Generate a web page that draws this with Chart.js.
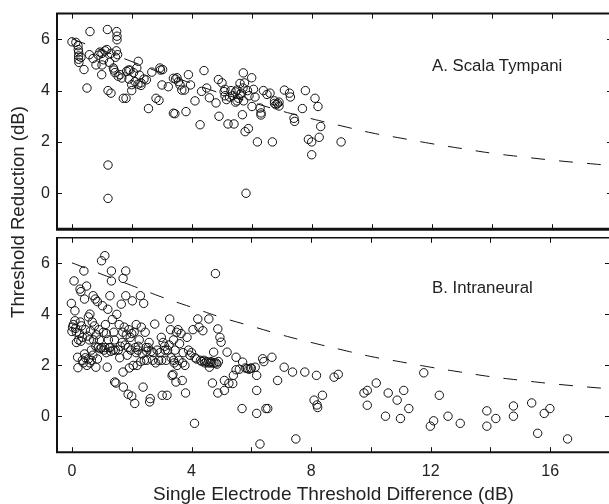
<!DOCTYPE html>
<html>
<head>
<meta charset="utf-8">
<title>Threshold Reduction</title>
<script src="https://cdn.jsdelivr.net/npm/chart.js"></script>
<style>
html, body {
  margin: 0;
  padding: 0;
  background: #fff;
  overflow: hidden;
  width: 609px;
  height: 504px;
}
#wrap {
  position: relative;
  width: 620px;
  height: 504px;
  font-family: "Liberation Sans", Arial, sans-serif;
  color: #222;
}
.box { position: absolute; left: 0; }
.tag {
  position: absolute;
  left: 432px;
  font-size: 16.8px;
  line-height: 16.8px;
  white-space: nowrap;
}
#yTitle {
  position: absolute;
  left: -102px;
  top: 202px;
  width: 240px;
  text-align: center;
  font-size: 18.6px;
  line-height: 20px;
  transform: rotate(-90deg);
  white-space: nowrap;
}
</style>
</head>
<body>

<div id="wrap">
  <div class="box" style="top:0"><canvas id="chartA" width="620" height="240"></canvas></div>
  <div class="box" style="top:230px"><canvas id="chartB" width="620" height="274"></canvas></div>
  <div class="tag" style="top:58px">A. Scala Tympani</div>
  <div class="tag" style="top:280px">B. Intraneural</div>
  <div id="yTitle">Threshold Reduction (dB)</div>
</div>

<script>
// panel A - scala tympani
const tympX = [0.0,0.13,0.2,0.21,0.22,0.22,0.22,0.23,0.3,0.4,0.5,0.58,0.6,0.7,0.8,0.88,0.93,0.99,1.0,1.0,
  1.05,1.1,1.16,1.18,1.2,1.2,1.2,1.25,1.3,1.3,1.38,1.4,1.43,1.45,1.49,1.5,1.5,1.48,1.52,1.54,
  1.6,1.66,1.71,1.8,1.82,1.88,1.9,1.93,1.99,1.99,2.05,2.1,2.16,2.21,2.2,2.25,2.3,2.3,2.4,2.48,
  2.55,2.66,2.8,2.9,2.93,2.95,3.02,3.0,3.21,3.38,3.38,3.43,3.45,3.5,3.55,3.6,3.66,3.75,3.8,3.88,
  3.95,4.1,4.27,4.32,4.4,4.49,4.58,4.8,4.88,4.9,5.0,5.07,5.1,5.1,5.15,5.2,5.25,5.3,5.35,5.4,
  5.45,5.45,5.5,5.5,5.55,5.6,5.6,5.65,5.68,5.7,5.71,5.72,5.75,5.77,5.8,5.85,5.88,5.9,5.99,6.0,
  6.05,6.1,6.18,6.27,6.3,6.3,6.38,6.5,6.6,6.68,6.75,6.75,6.8,6.85,6.9,6.9,7.08,7.25,7.28,7.4,
  7.42,7.68,7.78,7.88,7.99,7.99,8.1,8.2,8.24,8.29,8.97];
const tympY = [5.9,5.88,5.75,5.6,5.5,5.35,5.22,5.1,5.3,4.82,4.1,5.4,6.3,5.25,5.0,5.38,5.5,4.62,5.0,5.45,
  5.2,5.55,5.6,6.38,4.0,1.1,-0.2,5.1,3.9,5.45,4.88,4.8,4.7,5.3,6.3,6.12,5.98,5.55,5.4,4.56,
  4.62,4.49,3.7,3.7,4.75,4.8,4.45,4.8,4.0,4.23,4.7,4.35,4.88,5.14,4.25,4.6,4.3,4.2,4.45,4.42,
  3.3,4.72,3.7,3.62,4.88,4.8,4.82,4.22,4.15,4.48,3.12,3.1,4.45,4.5,4.35,4.22,4.02,4.02,3.18,4.62,
  4.22,3.6,2.67,3.97,4.78,4.1,3.72,3.52,4.43,3.0,4.3,3.96,3.8,4.05,3.65,2.7,3.75,4.0,3.8,2.7,
  3.55,3.95,4.02,3.6,3.7,4.28,3.85,3.9,3.06,4.1,4.69,3.6,4.3,2.4,0.0,4.0,2.52,3.8,4.5,3.38,
  4.05,3.75,2.0,3.32,3.13,3.05,4.0,3.85,3.9,2.0,3.6,3.5,3.45,3.5,3.55,3.4,4.02,3.9,3.75,2.92,
  2.8,3.3,4.0,2.1,2.0,1.5,3.7,3.38,2.18,2.6,2.0];

// panel B - intraneural
const intraX = [-0.02,0.0,0.02,0.05,0.07,0.1,0.1,0.12,0.15,0.19,0.2,0.22,0.25,0.27,0.3,0.3,0.32,0.35,0.38,0.4,
  0.42,0.45,0.45,0.49,0.5,0.52,0.55,0.55,0.6,0.6,0.62,0.65,0.68,0.71,0.72,0.75,0.78,0.8,0.8,0.82,
  0.85,0.88,0.9,0.95,0.99,0.99,1.02,1.05,1.07,1.1,1.12,1.15,1.18,1.2,1.22,1.25,1.27,1.3,1.32,1.32,
  1.35,1.38,1.4,1.43,1.45,1.47,1.5,1.55,1.58,1.6,1.65,1.68,1.71,1.71,1.72,1.75,1.78,1.8,1.8,1.82,
  1.85,1.88,1.9,1.92,1.95,1.97,2.0,2.02,2.05,2.08,2.1,2.12,2.15,2.18,2.2,2.25,2.29,2.3,2.32,2.35,
  2.38,2.4,2.42,2.45,2.48,2.5,2.55,2.6,2.62,2.65,2.7,2.77,2.8,2.85,2.9,2.95,2.99,3.0,3.02,3.05,
  3.1,3.15,3.18,3.2,3.25,3.27,3.3,3.32,3.35,3.38,3.4,3.42,3.45,3.48,3.5,3.52,3.55,3.58,3.6,3.65,
  3.69,3.7,3.72,3.78,3.8,3.85,3.9,3.95,4.0,4.05,4.1,4.12,4.17,4.21,4.25,4.3,4.35,4.38,4.42,4.5,
  4.55,4.58,4.6,4.62,4.68,4.7,4.74,4.75,4.8,4.82,4.88,4.88,4.9,4.95,4.99,5.1,5.1,5.19,5.25,5.38,
  5.4,5.49,5.49,5.6,5.69,5.71,5.8,5.86,5.92,5.98,6.0,6.13,6.18,6.18,6.18,6.29,6.38,6.42,6.49,6.55,
  6.69,6.88,7.1,7.38,7.49,7.79,8.1,8.18,8.2,8.22,8.38,8.77,8.91,9.77,9.88,9.88,10.18,10.49,10.58,10.88,
  10.99,11.1,11.27,11.77,11.99,12.1,12.29,12.58,12.99,13.88,13.88,14.18,14.77,14.77,15.38,15.58,15.8,15.99,16.58,
  0.15,0.28,0.35,0.42,0.58,0.65,0.7,0.85,0.92,1.1,1.15,1.28,1.42,1.62,1.7,1.88,2.0,2.15,2.22,2.5,
  2.58,2.72,3.12,3.4,4.45,4.65,4.85];
const intraY = [4.43,3.33,3.5,3.6,5.31,4.14,3.75,3.45,3.3,2.32,1.91,3.0,3.25,4.99,4.89,2.95,3.55,2.2,2.1,5.7,
  4.6,3.4,2.3,5.11,2.0,3.15,3.9,2.25,4.01,2.1,3.35,2.2,3.7,4.73,3.0,3.55,4.6,1.93,2.75,3.2,
  4.5,2.7,3.4,2.65,6.1,2.7,4.34,3.3,2.6,6.3,3.6,2.5,1.93,4.2,3.0,2.7,4.73,2.55,5.7,5.31,
  3.8,2.6,3.3,1.35,2.6,1.31,4.0,2.6,3.6,2.3,4.4,2.9,5.41,1.74,1.15,3.5,2.8,5.7,4.73,3.2,
  2.4,0.87,3.4,1.9,3.1,2.6,0.8,4.53,2.0,3.3,0.51,2.7,3.6,2.0,2.6,3.0,4.73,2.15,3.5,2.45,
  1.15,4.43,2.2,3.3,2.7,2.55,2.7,0.57,0.7,2.55,2.2,3.62,2.1,2.6,2.2,2.5,3.1,2.2,0.83,2.9,
  2.75,2.2,0.83,2.6,2.8,3.82,3.4,2.3,1.6,1.65,3.0,2.1,2.6,1.35,3.3,2.0,3.4,2.2,2.85,3.25,
  1.41,2.1,2.5,2.0,0.92,3.1,2.6,2.4,2.5,3.4,-0.27,2.3,2.25,3.82,3.5,2.2,2.15,3.36,2.2,2.15,
  2.1,3.82,1.93,2.1,2.1,1.31,2.52,2.1,5.6,2.1,3.43,0.92,2.15,3.1,2.91,1.41,1.02,2.52,1.3,1.29,
  1.61,2.32,1.83,1.85,0.31,2.13,1.9,1.88,1.85,1.88,1.9,1.93,1.61,1.02,0.12,-1.08,2.26,2.15,0.31,0.31,
  2.32,1.41,1.93,1.74,-0.88,1.74,0.64,1.61,0.45,0.35,0.83,1.54,1.65,0.92,1.02,0.44,1.31,0.01,0.92,0.64,
  -0.08,1.02,0.31,1.71,-0.38,-0.17,0.83,0.01,-0.27,0.22,-0.38,-0.08,0.41,0.01,0.53,-0.66,0.12,0.31,-0.88,
  2.9,3.7,3.1,2.45,3.0,2.6,2.4,2.25,3.0,2.7,3.25,2.7,3.0,2.75,3.3,2.7,3.25,2.5,2.75,2.2,
  2.9,2.5,2.6,2.2,2.1,2.15,2.05];

// dashed reference curve
const curveX = [0,1,2,3,4,5,6,7,8,9,10,11,12,13,14,15,16,17,18];
const curveY = [6.02,5.57,5.13,4.68,4.28,3.88,3.54,3.2,2.9,2.62,2.35,2.14,1.93,1.74,1.56,1.42,1.29,1.18,1.08];

const xTickLabels = [0, 4, 8, 12, 16];

const ink = '#111';
const textColor = '#222';
const fontFamily = '"Liberation Sans", Arial, sans-serif';

const toPoints = (xs, ys) => xs.map((x, i) => ({ x, y: ys[i] }));

// box frame + inward ticks on all four sides
const frameTicks = {
  id: 'frameTicks',
  afterDraw(chart, args, opts) {
    const { ctx, chartArea: a, scales: { x, y } } = chart;
    ctx.save();
    ctx.strokeStyle = ink;
    ctx.lineWidth = 1;
    ctx.beginPath();
    x.ticks.forEach(t => {
      const px = Math.round(x.getPixelForValue(t.value)) + 0.5;
      ctx.moveTo(px, a.top); ctx.lineTo(px, a.top + 5);
      ctx.moveTo(px, a.bottom); ctx.lineTo(px, a.bottom - 5);
    });
    y.ticks.forEach(t => {
      const py = Math.round(y.getPixelForValue(t.value)) + 0.5;
      ctx.moveTo(a.left, py); ctx.lineTo(a.left + 5, py);
      ctx.moveTo(a.right, py); ctx.lineTo(a.right - 5, py);
    });
    ctx.stroke();

    const side = (w, x1, y1, x2, y2) => {
      ctx.lineWidth = w;
      ctx.beginPath(); ctx.moveTo(x1, y1); ctx.lineTo(x2, y2); ctx.stroke();
    };
    side(opts.top, a.left - 1, a.top, a.right + 1, a.top);
    side(opts.bottom, a.left - 1, a.bottom, a.right + 1, a.bottom);
    side(2, a.left, a.top, a.left, a.bottom);
    side(2, a.right, a.top, a.right, a.bottom);
    ctx.restore();
  }
};

function makeChart(id, xs, ys, showX, pad, frame) {
  return new Chart(document.getElementById(id), {
    type: 'scatter',
    data: {
      datasets: [
        {
          type: 'line',
          data: toPoints(curveX, curveY),
          borderColor: ink,
          borderWidth: 1,
          borderDash: [14, 14],
          pointRadius: 0,
          tension: 0.4,
          fill: false
        },
        {
          data: toPoints(xs, ys),
          pointStyle: 'circle',
          pointRadius: 4.2,
          pointBorderWidth: 1,
          pointBorderColor: ink,
          pointBackgroundColor: 'rgba(0,0,0,0)'
        }
      ]
    },
    options: {
      responsive: false,
      animation: false,
      layout: { padding: pad },
      plugins: {
        legend: { display: false },
        tooltip: { enabled: false },
        frameTicks: frame
      },
      scales: {
        x: {
          type: 'linear',
          min: -0.5,
          max: 18,
          display: showX,
          grid: { display: false, drawTicks: false },
          border: { display: false },
          ticks: {
            stepSize: 2,
            includeBounds: false,
            padding: 10,
            color: textColor,
            font: { family: fontFamily, size: 16 },
            callback: v => xTickLabels.includes(v) ? String(v) : ''
          },
          title: {
            display: showX,
            text: 'Single Electrode Threshold Difference (dB)',
            color: textColor,
            font: { family: fontFamily, size: 19, lineHeight: 1 },
            padding: { top: 0, bottom: 0 }
          },
          afterFit: s => { s.height = showX ? 51.8 : 0; }
        },
        y: {
          min: -1.4,
          max: 7,
          grid: { display: false, drawTicks: false },
          border: { display: false },
          ticks: {
            stepSize: 2,
            includeBounds: false,
            padding: 7,
            color: textColor,
            // tiny line height so the labels do not push the plot area down
            font: { family: fontFamily, size: 16, lineHeight: 0.1 }
          },
          afterFit: s => { s.width = 57; }
        }
      }
    },
    plugins: [frameTicks]
  });
}

makeChart('chartA', tympX, tympY, false, { left: 0, right: 8, top: 13.6, bottom: 10.8 }, { top: 2, bottom: 3 });
makeChart('chartB', intraX, intraY, true, { left: 0, right: 8, top: 6.6, bottom: 0 }, { top: 1.5, bottom: 2 });
</script>

</body>
</html>
